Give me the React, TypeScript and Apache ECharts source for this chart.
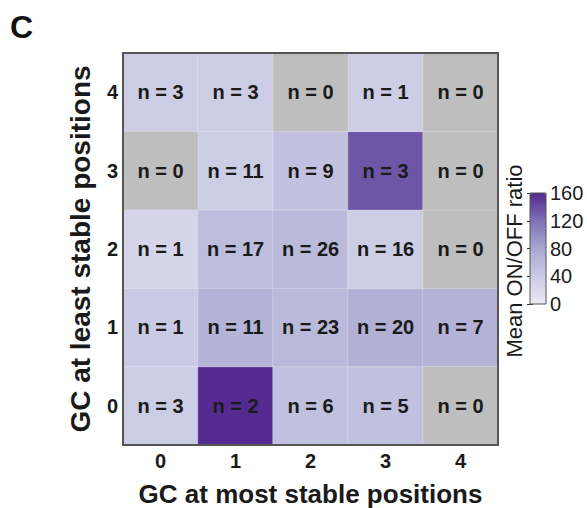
import React, { useEffect, useRef } from "react";
import * as echarts from "echarts";

const xCategories = ["0", "1", "2", "3", "4"];
const yCategories = ["0", "1", "2", "3", "4"];
// counts[y][x]
const counts = [
  [3, 2, 6, 5, 0],
  [1, 11, 23, 20, 7],
  [1, 17, 26, 16, 0],
  [0, 11, 9, 3, 0],
  [3, 3, 0, 1, 0],
];
// mean ON/OFF ratio[y][x]; null where n = 0
const ratios: (number | null)[][] = [
  [38, 158, 52, 52, null],
  [40, 66, 60, 70, 67],
  [28, 56, 58, 38, null],
  [null, 38, 50, 135, null],
  [38, 38, null, 36, null],
];
const colorTicks = [0, 40, 80, 120, 160];
const FONT = "Liberation Sans, Arial, sans-serif";

export default function App() {
  const ref = useRef<HTMLDivElement>(null);
  useEffect(() => {
    if (!ref.current) return;
    const chart = echarts.init(ref.current, null, { renderer: "svg" });
    const valued: any[] = [];
    const empty: any[] = [];
    for (let y = 0; y < yCategories.length; y++) {
      for (let x = 0; x < xCategories.length; x++) {
        const r = ratios[y][x];
        if (r === null) empty.push([x, y, counts[y][x]]);
        else valued.push([x, y, r, counts[y][x]]);
      }
    }
    const label = {
      show: true,
      fontFamily: FONT,
      fontWeight: "bold",
      fontSize: 20,
      color: "#1a1a1a",
      formatter: (p: any) => {
        const [x, y] = p.data;
        return "n = " + counts[y][x];
      },
    };
    chart.setOption({
      animation: false,
      textStyle: { fontFamily: FONT },
      grid: [
        {
          left: 123,
          top: 53,
          width: 375,
          height: 392,
          show: true,
          borderColor: "#555",
          borderWidth: 2,
          backgroundColor: "transparent",
          outerBoundsMode: "none",
          containLabel: false,
          z: 5,
        },
        {
          left: 530,
          top: 193,
          width: 16,
          height: 111,
          show: true,
          borderColor: "#555",
          borderWidth: 1,
          outerBoundsMode: "none",
          containLabel: false,
          z: 5,
        },
      ],
      xAxis: [
        {
          type: "category",
          data: xCategories,
          gridIndex: 0,
          axisLine: { show: false },
          axisTick: { show: false },
          axisLabel: { fontFamily: FONT, fontWeight: "bold", fontSize: 20, color: "#1a1a1a", margin: 6 },
          name: "GC at most stable positions",
          nameLocation: "middle",
          nameGap: 36,
          nameTextStyle: { fontFamily: FONT, fontWeight: "bold", fontSize: 26, color: "#1a1a1a" },
          splitLine: { show: false },
        },
        { type: "value", gridIndex: 1, show: false, min: 0, max: 1 },
      ],
      yAxis: [
        {
          type: "category",
          data: yCategories,
          gridIndex: 0,
          axisLine: { show: false },
          axisTick: { show: false },
          axisLabel: { fontFamily: FONT, fontWeight: "bold", fontSize: 20, color: "#1a1a1a", margin: 5 },
          name: "GC at least stable positions",
          nameLocation: "middle",
          nameGap: 29,
          nameTextStyle: { fontFamily: FONT, fontWeight: "bold", fontSize: 28, color: "#1a1a1a" },
        },
        {
          type: "value",
          gridIndex: 1,
          position: "right",
          min: colorTicks[0],
          max: colorTicks[colorTicks.length - 1],
          interval: 40,
          axisLine: { show: false },
          axisTick: { show: true, inside: true, length: 3, lineStyle: { color: "#333" } },
          axisLabel: { fontFamily: FONT, fontSize: 20, color: "#1a1a1a", margin: 4 },
          splitLine: { show: false },
        },
        {
          type: "value",
          gridIndex: 1,
          position: "left",
          min: colorTicks[0],
          max: colorTicks[colorTicks.length - 1],
          interval: 40,
          axisLine: { show: false },
          axisTick: { show: true, inside: true, length: 3, lineStyle: { color: "#333" } },
          axisLabel: { show: false },
          splitLine: { show: false },
        },
      ],
      visualMap: [
        {
          type: "continuous",
          seriesIndex: 0,
          dimension: 2,
          min: 0,
          max: 160,
          calculable: false,
          orient: "vertical",
          left: 530,
          top: 193,
          itemWidth: 16,
          itemHeight: 111,
          padding: 0,
          text: ["", ""],
          showLabel: false,
          inRange: { color: ["#eceaf4", "#cbcae4", "#a9a7d0", "#7e72b6", "#54278f"] },
        },
        {
          type: "continuous",
          seriesIndex: 1,
          dimension: 2,
          min: 0,
          max: 1,
          show: false,
          inRange: { color: ["#bebebe", "#bebebe"] },
        },
      ],
      graphic: [
        {
          type: "text",
          left: 10,
          top: 11,
          style: { text: "C", fontFamily: FONT, fontWeight: "bold", fontSize: 32, fill: "#111" },
        },
        {
          type: "text",
          x: 514,
          y: 261,
          rotation: Math.PI / 2,
          style: {
            text: "Mean ON/OFF ratio",
            fontFamily: FONT,
            fontSize: 22,
            fill: "#1a1a1a",
            align: "center",
            verticalAlign: "middle",
          },
        },
      ],
      series: [
        {
          type: "heatmap",
          xAxisIndex: 0,
          yAxisIndex: 0,
          data: valued,
          label,
          itemStyle: { borderColor: "rgba(255,255,255,0.25)", borderWidth: 1 },
        },
        {
          type: "heatmap",
          xAxisIndex: 0,
          yAxisIndex: 0,
          data: empty,
          label,
          itemStyle: { borderColor: "rgba(255,255,255,0.25)", borderWidth: 1 },
        },
      ],
    });
    return () => chart.dispose();
  }, []);
  return (
    <div
      ref={ref}
      style={{ position: "absolute", left: 0, top: 0, width: 587, height: 508 }}
    />
  );
}
